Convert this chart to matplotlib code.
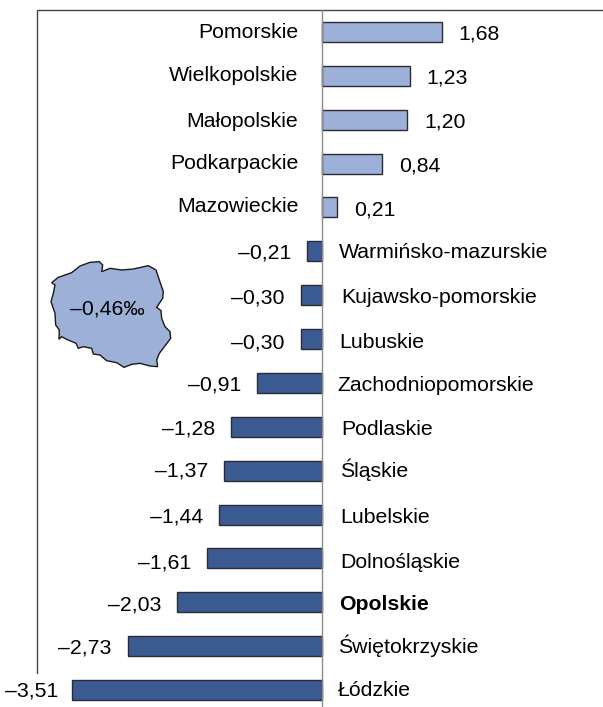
import matplotlib
matplotlib.use('Agg')
import matplotlib.pyplot as plt
from matplotlib.patches import Polygon
from matplotlib.transforms import Affine2D

plt.rcParams['font.family'] = ['Liberation Sans', 'DejaVu Sans']

regions = ['Pomorskie', 'Wielkopolskie', 'Małopolskie', 'Podkarpackie', 'Mazowieckie',
           'Warmińsko-mazurskie', 'Kujawsko-pomorskie', 'Lubuskie', 'Zachodniopomorskie',
           'Podlaskie', 'Śląskie', 'Lubelskie', 'Dolnośląskie', 'Opolskie', 'Świętokrzyskie', 'Łódzkie']
values = [1.68, 1.23, 1.20, 0.84, 0.21, -0.21, -0.30, -0.30, -0.91,
          -1.28, -1.37, -1.44, -1.61, -2.03, -2.73, -3.51]
highlight = 'Opolskie'
national = '–0,46‰'

W, H = 603, 707
X0, PX_PER_UNIT = 322.0, 71.2
Y0, ROW = 32.0, 43.87
POS, NEG = '#9DB0D8', '#3B5A92'
FS = 15.3
PT = 0.72  # points per pixel at dpi 100

# hand placement of the row labels in the source: baseline below bar centre, and x shift, in pixels
name_drop = [6, 5, 7, 5, 4.5, 7, 8, 9, 8, 8, 6, 8, 9.6, 7.7, 7, 6]
name_shift = [0, 0, 0, 0, 0, -1, 1, -0.5, -3, 1, 0, 0, 0, -0.5, -1.5, -2]

fig = plt.figure(figsize=(W / 100, H / 100), dpi=100, facecolor='white')
ax = fig.add_axes([0, 0, 1, 1])
ax.set_xlim(-X0 / PX_PER_UNIT, (W - X0) / PX_PER_UNIT)
ax.set_ylim((H - Y0) / ROW, -Y0 / ROW)
ax.axis('off')

ax.barh(range(len(values)), values, height=0.455,
        color=[POS if v > 0 else NEG for v in values],
        edgecolor='#2b2b33', linewidth=1.0, zorder=2)


def fmt(v):
    s = f'{abs(v):.2f}'.replace('.', ',')
    return s if v > 0 else '–' + s


for i, (name, v) in enumerate(zip(regions, values)):
    drop, shift = name_drop[i], name_shift[i]
    if v > 0:
        ax.annotate(fmt(v), (v, i), xytext=(17 * PT, -8 * PT), textcoords='offset points',
                    ha='left', va='baseline', fontsize=FS, color='black')
        ax.annotate(name, (0, i), xytext=(-23.5 * PT, -drop * PT), textcoords='offset points',
                    ha='right', va='baseline', fontsize=FS, color='black')
    else:
        gap = 13.5 if i == len(values) - 1 else 16
        ax.annotate(fmt(v), (v, i), xytext=(-gap * PT, -drop * PT), textcoords='offset points',
                    ha='right', va='baseline', fontsize=FS, color='black')
        ax.annotate(name, (0, i), xytext=((18 + shift) * PT, -drop * PT), textcoords='offset points',
                    ha='left', va='baseline', fontsize=FS, color='black',
                    fontweight='bold' if name == highlight else 'normal')

# frame and axis lines in pixel coordinates
to_fig = Affine2D().scale(1 / W, -1 / H).translate(0, 1) + fig.transFigure
ax.add_line(plt.Line2D([X0, X0], [10, 707], transform=to_fig, color='#8c8c8c', lw=1.0, zorder=3))
ax.add_line(plt.Line2D([37, 37, 603], [673, 10, 10], transform=to_fig, color='#444444', lw=1.0, zorder=1))

# outline of Poland, decoration (pixel positions of the 3x crop at origin (0, 230))
outline = [(155, 158), (175, 142), (215, 128), (240, 108), (270, 97), (298, 95), (308, 105), (305, 125),
           (330, 115), (365, 120), (400, 117), (445, 107), (468, 120), (478, 150), (490, 185), (488, 205),
           (470, 232), (483, 242), (485, 265), (495, 290), (510, 305), (512, 325), (497, 345), (478, 370),
           (470, 390), (473, 410), (450, 408), (420, 400), (395, 403), (372, 412), (350, 398), (320, 392),
           (300, 375), (280, 372), (275, 355), (250, 350), (235, 355), (228, 340), (200, 328), (185, 320),
           (177, 328), (178, 300), (167, 285), (165, 250), (153, 215), (160, 190), (165, 165)]
shape = [(x / 3, 230 + y / 3) for x, y in outline]
ax.add_patch(Polygon(shape, closed=True, transform=to_fig, facecolor=POS, edgecolor='#1a1a1a', lw=1.0, zorder=2))
ax.text(107, 309, national, transform=to_fig, ha='center', va='center', fontsize=FS, color='black', zorder=3)

fig.savefig('out.png', dpi=100)
